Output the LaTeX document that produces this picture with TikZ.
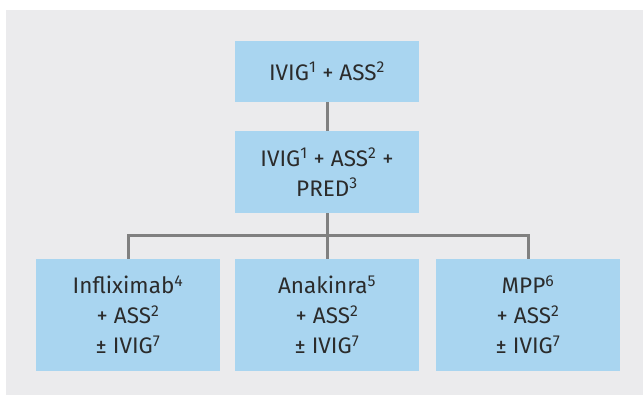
\documentclass[tikz,border=0pt]{standalone}
\usepackage{fontspec}
\setmainfont{Fira Sans}
\usepackage{tikz}
\usetikzlibrary{calc}

\definecolor{panelgray}{HTML}{EBEBED}
\definecolor{boxblue}{HTML}{A9D5F0}
\definecolor{linegray}{HTML}{808080}
\definecolor{textdark}{HTML}{2B2B2B}

\tikzset{
  drugbox/.style={fill=boxblue, draw=none, text=textdark, align=center,
    minimum width=184pt, inner sep=0pt,
    font=\fontsize{22.5}{30}\selectfont},
  link/.style={draw=linegray, line width=3pt}
}
\newcommand{\fn}[1]{\textsuperscript{#1}}

\begin{document}
\begin{tikzpicture}[x=1pt, y=-1pt]
  \useasboundingbox (0,0) rectangle (643,395);
  \fill[panelgray] (6,10) rectangle (643,395);

  % Stufe 1
  \node[drugbox, minimum height=61pt] (ivig) at (327,71.5) {IVIG\fn{1} + ASS\fn{2}};
  % Stufe 2
  \node[drugbox, minimum height=82pt] (pred) at (327,172) {IVIG\fn{1} + ASS\fn{2} +\\PRED\fn{3}};
  % Stufe 3
  \node[drugbox, minimum height=112pt] (inflix) at (128,315) {Infliximab\fn{4}\\+ ASS\fn{2}\\± IVIG\fn{7}};
  \node[drugbox, minimum height=112pt] (anak) at (327,315) {Anakinra\fn{5}\\+ ASS\fn{2}\\± IVIG\fn{7}};
  \node[drugbox, minimum height=112pt] (mpp) at (528,315) {MPP\fn{6}\\+ ASS\fn{2}\\± IVIG\fn{7}};

  \coordinate (split) at (327,236);
  \draw[link] (ivig) -- (pred);
  \draw[link] (pred) -- (anak);
  \draw[link] (inflix.north) |- (split) -| (mpp.north);
\end{tikzpicture}
\end{document}
